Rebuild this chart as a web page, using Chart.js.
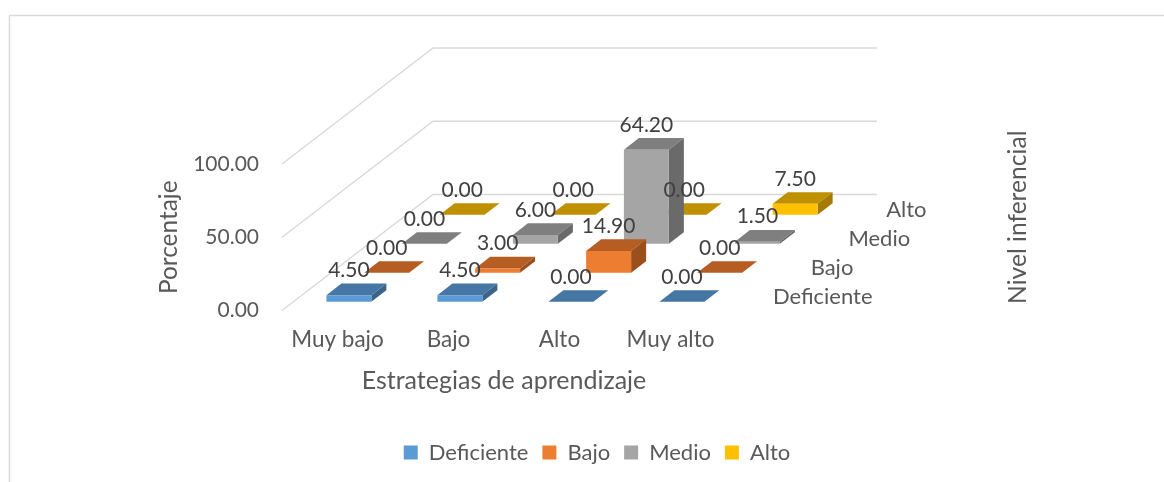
<!DOCTYPE html>
<html>
<head>
<meta charset="utf-8">
<style>html,body{margin:0;padding:0;background:#fff}canvas{display:block}</style>
<script src="https://cdn.jsdelivr.net/npm/chart.js@4"></script>
</head>
<body>
<canvas id="c" width="1164" height="482"></canvas>
<script>
const categories = ["Muy bajo", "Bajo", "Alto", "Muy alto"];
const seriesNames = ["Deficiente", "Bajo", "Medio", "Alto"];
const deficiente = [4.5, 4.5, 0, 0];
const bajo = [0, 3, 14.9, 0];
const medio = [0, 6, 64.2, 1.5];
const alto = [0, 0, 0, 7.5];
const yTicks = [0, 50, 100];
const xTitle = "Estrategias de aprendizaje";
const yTitle = "Porcentaje";
const zTitle = "Nivel inferencial";

const frontColors = ["#5B9BD5", "#ED7D31", "#A5A5A5", "#FFC000"];
const topColors = ["#4676A3", "#B55D22", "#7F7F7F", "#BF9000"];
const sideColors = ["#3B6488", "#9A4F1C", "#6A6A6A", "#A37B00"];

const FONT = "Lato";
const STEP_X = 37.75, STEP_Y = 29;      // one depth slot
const BAR_DX = 15, BAR_DY = 11.7;       // depth of a bar
const GRID = "#D9D9D9";

const faceOffset = i => ({
  x: i * STEP_X + (STEP_X - BAR_DX) / 2,
  y: -(i * STEP_Y + (STEP_Y - BAR_DY) / 2)
});

function poly(ctx, pts, color) {
  ctx.fillStyle = color;
  ctx.beginPath();
  pts.forEach((p, k) => k ? ctx.lineTo(p[0], p[1]) : ctx.moveTo(p[0], p[1]));
  ctx.closePath();
  ctx.fill();
}

const box3d = {
  id: "box3d",
  beforeDraw(chart) {
    const { ctx, width, height } = chart;
    ctx.save();
    ctx.strokeStyle = GRID;
    ctx.lineWidth = 1.5;
    ctx.beginPath();
    ctx.moveTo(9.5, height);
    ctx.lineTo(9.5, 15.5);
    ctx.lineTo(width, 15.5);
    ctx.stroke();
    ctx.restore();
  },
  beforeDatasetsDraw(chart) {
    const { ctx, scales } = chart;
    const n = seriesNames.length;
    ctx.save();
    ctx.strokeStyle = GRID;
    ctx.lineWidth = 1.4;
    yTicks.forEach(v => {
      const y = scales.y.getPixelForValue(v);
      ctx.beginPath();
      ctx.moveTo(scales.x.left, y);
      ctx.lineTo(scales.x.left + n * STEP_X, y - n * STEP_Y);
      ctx.lineTo(scales.x.right + n * STEP_X, y - n * STEP_Y);
      ctx.stroke();
    });
    ctx.restore();
  },
  beforeDatasetDraw(chart, args) {
    const { ctx } = chart;
    const i = args.index;
    const o = faceOffset(i);
    ctx.save();
    ctx.translate(o.x, o.y);
    args.meta.data.forEach(el => {
      const { x, y, base, width } = el.getProps(["x", "y", "base", "width"], true);
      const l = x - width / 2, r = x + width / 2;
      poly(ctx, [[l, y], [r, y], [r + BAR_DX, y - BAR_DY], [l + BAR_DX, y - BAR_DY]], topColors[i]);
      if (base - y > 0.01) {
        poly(ctx, [[r, y], [r + BAR_DX, y - BAR_DY], [r + BAR_DX, base - BAR_DY], [r, base]], sideColors[i]);
      }
    });
  },
  afterDatasetDraw(chart) {
    chart.ctx.restore();
  },
  afterDatasetsDraw(chart) {
    const { ctx, scales } = chart;
    ctx.save();
    ctx.font = "21px " + FONT;
    ctx.textBaseline = "middle";
    ctx.textAlign = "center";
    ctx.fillStyle = "#404040";
    chart.data.datasets.forEach((ds, i) => {
      const o = faceOffset(i);
      chart.getDatasetMeta(i).data.forEach((el, k) => {
        ctx.fillText(ds.data[k].toFixed(2), el.x + o.x, el.y + o.y - 25);
      });
    });
    ctx.font = "22px " + FONT;
    ctx.textAlign = "left";
    ctx.fillStyle = "#595959";
    seriesNames.forEach((name, i) => {
      const x = scales.x.right + (i + 0.5) * STEP_X + 28;
      const y = scales.y.bottom - (i + 0.5) * STEP_Y + 1;
      ctx.fillText(name, x, y);
    });
    ctx.save();
    ctx.font = "24.6px " + FONT;
    ctx.textAlign = "center";
    ctx.translate(scales.z.left + 292, (scales.z.top + scales.z.bottom) / 2 - 20);
    ctx.rotate(-Math.PI / 2);
    ctx.fillText(zTitle, 0, 0);
    ctx.restore();
    ctx.restore();
  }
};

const datasetsData = [deficiente, bajo, medio, alto];

new Chart(document.getElementById("c"), {
  type: "bar",
  plugins: [box3d],
  data: {
    labels: categories,
    datasets: seriesNames.map((name, i) => ({
      label: name,
      data: datasetsData[i],
      backgroundColor: frontColors[i],
      borderWidth: 0,
      grouped: false,
      clip: false,
      barPercentage: 0.405,
      categoryPercentage: 1
    }))
  },
  options: {
    responsive: false,
    animation: false,
    layout: { padding: { left: 30, right: 0, top: 164, bottom: 8.5 } },
    plugins: {
      tooltip: { enabled: false },
      legend: {
        position: "bottom",
        labels: {
          boxWidth: 14, boxHeight: 14, padding: 14,
          color: "#595959",
          font: { family: FONT, size: 22 }
        }
      }
    },
    scales: {
      x: {
        type: "category",
        grid: { display: false, drawTicks: false },
        border: { display: false },
        ticks: { color: "#595959", padding: 16, font: { family: FONT, size: 22.5 }, maxRotation: 0 },
        title: { display: true, text: xTitle, color: "#595959", font: { family: FONT, size: 25 }, padding: { top: 0, bottom: 31.5 } },
        afterFit(s) { s.height = 117; }
      },
      y: {
        min: 0, max: 100,
        grid: { display: false, drawTicks: false },
        border: { display: false },
        afterBuildTicks(s) { s.ticks = yTicks.map(v => ({ value: v })); },
        ticks: { color: "#595959", padding: 23, font: { family: FONT, size: 21 }, callback: v => v.toFixed(2) },
        title: { display: true, text: yTitle, color: "#595959", font: { family: FONT, size: 24.4 }, padding: { top: 125, bottom: 0 } },
        afterFit(s) { s.width = 252; }
      },
      z: {
        type: "category",
        axis: "y",
        position: "right",
        labels: seriesNames,
        display: true,
        grid: { display: false, drawTicks: false },
        border: { display: false },
        ticks: { display: false },
        afterFit(s) { s.width = 438; }
      }
    }
  }
});
</script>
</body>
</html>
